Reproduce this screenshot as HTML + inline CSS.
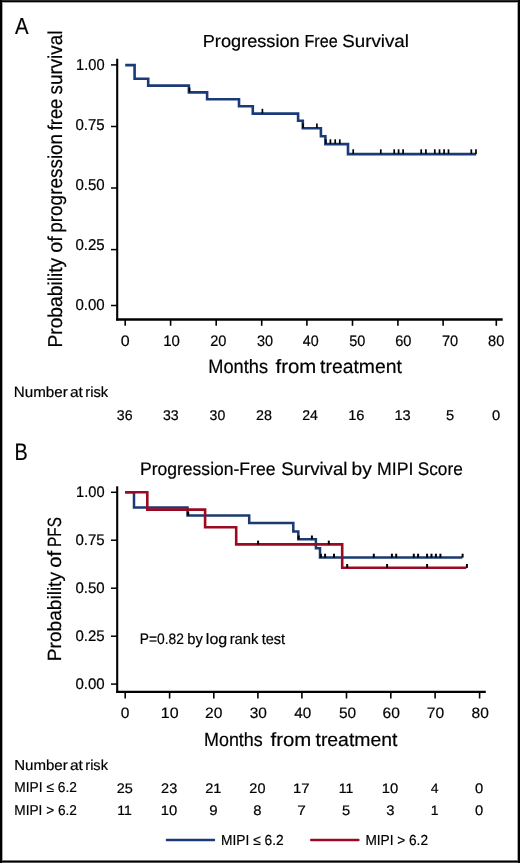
<!DOCTYPE html>
<html><head><meta charset="utf-8"><style>
html,body{margin:0;padding:0;background:#fff;}
body{width:520px;height:863px;overflow:hidden;position:relative;}
svg{position:absolute;left:0;top:0;display:block;will-change:transform;}
text{font-family:"Liberation Sans", sans-serif;fill:#000;text-rendering:geometricPrecision;stroke:#000;stroke-width:0.2px;}
</style></head><body>
<svg width="520" height="863" viewBox="0 0 520 863">
<rect x="0" y="0" width="520" height="863" fill="#fff"/>
<rect x="0" y="0" width="520" height="1" fill="#2a2a2a"/>
<rect x="0" y="1" width="520" height="1" fill="#000"/>
<rect x="0" y="2" width="520" height="1" fill="#aaa"/>
<rect x="0" y="860" width="520" height="1" fill="#777"/>
<rect x="0" y="861" width="520" height="1" fill="#000"/>
<rect x="0" y="862" width="520" height="1" fill="#555"/>
<rect x="2" y="2" width="1" height="858" fill="#aaa"/>
<rect x="517" y="2" width="1" height="858" fill="#aaa"/>
<rect x="0" y="0" width="2" height="863" fill="#000"/>
<rect x="518" y="0" width="2" height="863" fill="#000"/>
<text x="15.00" y="34.00" font-size="23.26" textLength="13.54" lengthAdjust="spacingAndGlyphs">A</text>
<text x="202.75" y="46.60" font-size="17.44" textLength="96.95" lengthAdjust="spacingAndGlyphs">Progression</text>
<text x="304.41" y="46.60" font-size="17.44" textLength="33.24" lengthAdjust="spacingAndGlyphs">Free</text>
<text x="342.26" y="46.60" font-size="17.44" textLength="66.69" lengthAdjust="spacingAndGlyphs">Survival</text>
<text transform="translate(61.50,347.54) rotate(-90)" x="0" y="0" font-size="20.06" textLength="89.71" lengthAdjust="spacingAndGlyphs">Probability</text>
<text transform="translate(61.50,252.69) rotate(-90)" x="0" y="0" font-size="20.06" textLength="16.57" lengthAdjust="spacingAndGlyphs">of</text>
<text transform="translate(61.50,232.73) rotate(-90)" x="0" y="0" font-size="20.06" textLength="98.86" lengthAdjust="spacingAndGlyphs">progression</text>
<text transform="translate(61.50,130.27) rotate(-90)" x="0" y="0" font-size="20.06" textLength="31.57" lengthAdjust="spacingAndGlyphs">free</text>
<text transform="translate(61.50,94.46) rotate(-90)" x="0" y="0" font-size="20.06" textLength="63.78" lengthAdjust="spacingAndGlyphs">survival</text>
<text x="76.10" y="69.60" font-size="15.77" textLength="28.50" lengthAdjust="spacingAndGlyphs">1.00</text>
<text x="75.40" y="129.80" font-size="15.77" textLength="29.22" lengthAdjust="spacingAndGlyphs">0.75</text>
<text x="75.40" y="190.30" font-size="15.77" textLength="29.22" lengthAdjust="spacingAndGlyphs">0.50</text>
<text x="75.40" y="250.30" font-size="15.77" textLength="29.22" lengthAdjust="spacingAndGlyphs">0.25</text>
<text x="75.40" y="310.30" font-size="15.77" textLength="29.22" lengthAdjust="spacingAndGlyphs">0.00</text>
<text x="120.86" y="345.80" font-size="15.21" textLength="8.90" lengthAdjust="spacingAndGlyphs">0</text>
<text x="163.28" y="345.80" font-size="15.21" textLength="16.69" lengthAdjust="spacingAndGlyphs">10</text>
<text x="210.17" y="345.80" font-size="15.21" textLength="16.28" lengthAdjust="spacingAndGlyphs">20</text>
<text x="256.92" y="345.80" font-size="15.21" textLength="16.12" lengthAdjust="spacingAndGlyphs">30</text>
<text x="302.74" y="345.80" font-size="15.21" textLength="15.89" lengthAdjust="spacingAndGlyphs">40</text>
<text x="349.22" y="345.80" font-size="15.21" textLength="16.12" lengthAdjust="spacingAndGlyphs">50</text>
<text x="395.17" y="345.80" font-size="15.21" textLength="16.28" lengthAdjust="spacingAndGlyphs">60</text>
<text x="441.97" y="345.80" font-size="15.21" textLength="16.28" lengthAdjust="spacingAndGlyphs">70</text>
<text x="488.04" y="345.80" font-size="15.21" textLength="16.20" lengthAdjust="spacingAndGlyphs">80</text>
<text x="208.34" y="372.80" font-size="19.33" textLength="59.67" lengthAdjust="spacingAndGlyphs">Months</text>
<text x="275.49" y="372.80" font-size="19.33" textLength="40.83" lengthAdjust="spacingAndGlyphs">from</text>
<text x="320.11" y="372.80" font-size="19.33" textLength="81.77" lengthAdjust="spacingAndGlyphs">treatment</text>
<text x="13.79" y="396.80" font-size="14.83" textLength="53.97" lengthAdjust="spacingAndGlyphs">Number</text>
<text x="69.90" y="396.80" font-size="14.83" textLength="12.99" lengthAdjust="spacingAndGlyphs">at</text>
<text x="85.29" y="396.80" font-size="14.83" textLength="22.91" lengthAdjust="spacingAndGlyphs">risk</text>
<text x="116.83" y="419.80" font-size="14.08" textLength="15.77" lengthAdjust="spacingAndGlyphs">36</text>
<text x="162.93" y="419.80" font-size="14.08" textLength="15.77" lengthAdjust="spacingAndGlyphs">33</text>
<text x="209.64" y="419.80" font-size="14.08" textLength="15.69" lengthAdjust="spacingAndGlyphs">30</text>
<text x="255.98" y="419.80" font-size="14.08" textLength="15.92" lengthAdjust="spacingAndGlyphs">28</text>
<text x="302.19" y="419.80" font-size="14.08" textLength="15.69" lengthAdjust="spacingAndGlyphs">24</text>
<text x="348.20" y="419.80" font-size="14.08" textLength="16.32" lengthAdjust="spacingAndGlyphs">16</text>
<text x="394.40" y="419.80" font-size="14.08" textLength="16.32" lengthAdjust="spacingAndGlyphs">13</text>
<text x="445.91" y="419.80" font-size="14.08" textLength="8.20" lengthAdjust="spacingAndGlyphs">5</text>
<text x="491.91" y="419.80" font-size="14.08" textLength="8.20" lengthAdjust="spacingAndGlyphs">0</text>
<text x="14.51" y="460.40" font-size="23.98" textLength="13.22" lengthAdjust="spacingAndGlyphs">B</text>
<text x="140.00" y="474.50" font-size="18.17" textLength="135.39" lengthAdjust="spacingAndGlyphs">Progression-Free</text>
<text x="281.16" y="474.50" font-size="18.17" textLength="66.28" lengthAdjust="spacingAndGlyphs">Survival</text>
<text x="351.55" y="474.50" font-size="18.17" textLength="20.27" lengthAdjust="spacingAndGlyphs">by</text>
<text x="377.09" y="474.50" font-size="18.17" textLength="36.32" lengthAdjust="spacingAndGlyphs">MIPI</text>
<text x="417.72" y="474.50" font-size="18.17" textLength="45.00" lengthAdjust="spacingAndGlyphs">Score</text>
<text transform="translate(60.90,661.13) rotate(-90)" x="0" y="0" font-size="19.19" textLength="89.10" lengthAdjust="spacingAndGlyphs">Probability</text>
<text transform="translate(60.90,567.82) rotate(-90)" x="0" y="0" font-size="19.19" textLength="16.99" lengthAdjust="spacingAndGlyphs">of</text>
<text transform="translate(60.90,546.93) rotate(-90)" x="0" y="0" font-size="19.19" textLength="29.81" lengthAdjust="spacingAndGlyphs">PFS</text>
<text x="76.10" y="497.30" font-size="15.35" textLength="28.50" lengthAdjust="spacingAndGlyphs">1.00</text>
<text x="75.40" y="545.20" font-size="15.35" textLength="29.22" lengthAdjust="spacingAndGlyphs">0.75</text>
<text x="75.40" y="593.20" font-size="15.35" textLength="29.22" lengthAdjust="spacingAndGlyphs">0.50</text>
<text x="75.40" y="641.20" font-size="15.35" textLength="29.22" lengthAdjust="spacingAndGlyphs">0.25</text>
<text x="75.40" y="689.10" font-size="15.35" textLength="29.22" lengthAdjust="spacingAndGlyphs">0.00</text>
<text x="120.88" y="718.30" font-size="15.07" textLength="8.66" lengthAdjust="spacingAndGlyphs">0</text>
<text x="160.80" y="718.30" font-size="15.07" textLength="17.80" lengthAdjust="spacingAndGlyphs">10</text>
<text x="205.02" y="718.30" font-size="15.07" textLength="17.36" lengthAdjust="spacingAndGlyphs">20</text>
<text x="249.68" y="718.30" font-size="15.07" textLength="17.20" lengthAdjust="spacingAndGlyphs">30</text>
<text x="294.22" y="718.30" font-size="15.07" textLength="16.95" lengthAdjust="spacingAndGlyphs">40</text>
<text x="338.98" y="718.30" font-size="15.07" textLength="17.20" lengthAdjust="spacingAndGlyphs">50</text>
<text x="382.62" y="718.30" font-size="15.07" textLength="17.36" lengthAdjust="spacingAndGlyphs">60</text>
<text x="426.72" y="718.30" font-size="15.07" textLength="17.36" lengthAdjust="spacingAndGlyphs">70</text>
<text x="471.60" y="718.30" font-size="15.07" textLength="17.28" lengthAdjust="spacingAndGlyphs">80</text>
<text x="204.07" y="745.50" font-size="19.04" textLength="58.63" lengthAdjust="spacingAndGlyphs">Months</text>
<text x="270.49" y="745.50" font-size="19.04" textLength="40.83" lengthAdjust="spacingAndGlyphs">from</text>
<text x="315.51" y="745.50" font-size="19.04" textLength="81.87" lengthAdjust="spacingAndGlyphs">treatment</text>
<text x="14.20" y="769.50" font-size="14.39" textLength="53.56" lengthAdjust="spacingAndGlyphs">Number</text>
<text x="69.90" y="769.50" font-size="14.39" textLength="12.99" lengthAdjust="spacingAndGlyphs">at</text>
<text x="85.31" y="769.50" font-size="14.39" textLength="22.60" lengthAdjust="spacingAndGlyphs">risk</text>
<text x="14.30" y="792.20" font-size="14.24" textLength="62.59" lengthAdjust="spacingAndGlyphs">MIPI &#8804; 6.2</text>
<text x="14.31" y="815.30" font-size="14.24" textLength="62.58" lengthAdjust="spacingAndGlyphs">MIPI &gt; 6.2</text>
<text x="116.67" y="792.50" font-size="13.80" textLength="16.14" lengthAdjust="spacingAndGlyphs">25</text>
<text x="117.35" y="815.40" font-size="13.80" textLength="14.52" lengthAdjust="spacingAndGlyphs">11</text>
<text x="161.07" y="792.50" font-size="13.80" textLength="16.14" lengthAdjust="spacingAndGlyphs">23</text>
<text x="160.69" y="815.40" font-size="13.80" textLength="16.46" lengthAdjust="spacingAndGlyphs">10</text>
<text x="205.27" y="792.50" font-size="13.80" textLength="16.22" lengthAdjust="spacingAndGlyphs">21</text>
<text x="209.22" y="815.40" font-size="13.80" textLength="8.37" lengthAdjust="spacingAndGlyphs">9</text>
<text x="249.38" y="792.50" font-size="13.80" textLength="16.06" lengthAdjust="spacingAndGlyphs">20</text>
<text x="253.33" y="815.40" font-size="13.80" textLength="8.28" lengthAdjust="spacingAndGlyphs">8</text>
<text x="292.97" y="792.50" font-size="13.80" textLength="16.71" lengthAdjust="spacingAndGlyphs">17</text>
<text x="297.23" y="815.40" font-size="13.80" textLength="8.56" lengthAdjust="spacingAndGlyphs">7</text>
<text x="338.65" y="792.50" font-size="13.80" textLength="14.52" lengthAdjust="spacingAndGlyphs">11</text>
<text x="342.01" y="815.40" font-size="13.80" textLength="8.20" lengthAdjust="spacingAndGlyphs">5</text>
<text x="381.89" y="792.50" font-size="13.80" textLength="16.46" lengthAdjust="spacingAndGlyphs">10</text>
<text x="386.30" y="815.40" font-size="13.80" textLength="8.28" lengthAdjust="spacingAndGlyphs">3</text>
<text x="430.85" y="792.50" font-size="13.80" textLength="7.79" lengthAdjust="spacingAndGlyphs">4</text>
<text x="430.65" y="815.40" font-size="13.80" textLength="7.76" lengthAdjust="spacingAndGlyphs">1</text>
<text x="475.11" y="792.50" font-size="13.80" textLength="8.20" lengthAdjust="spacingAndGlyphs">0</text>
<text x="475.11" y="815.40" font-size="13.80" textLength="8.20" lengthAdjust="spacingAndGlyphs">0</text>
<text x="139.70" y="643.50" font-size="15.12" textLength="44.13" lengthAdjust="spacingAndGlyphs">P=0.82</text>
<text x="187.24" y="643.50" font-size="15.12" textLength="15.58" lengthAdjust="spacingAndGlyphs">by</text>
<text x="205.86" y="643.50" font-size="15.12" textLength="21.37" lengthAdjust="spacingAndGlyphs">log</text>
<text x="229.64" y="643.50" font-size="15.12" textLength="28.87" lengthAdjust="spacingAndGlyphs">rank</text>
<text x="261.68" y="643.50" font-size="15.12" textLength="23.42" lengthAdjust="spacingAndGlyphs">test</text>
<text x="221.10" y="844.50" font-size="14.53" textLength="62.59" lengthAdjust="spacingAndGlyphs">MIPI &#8804; 6.2</text>
<text x="365.41" y="844.60" font-size="14.53" textLength="62.58" lengthAdjust="spacingAndGlyphs">MIPI &gt; 6.2</text>
<line x1="111" y1="64.9" x2="117" y2="64.9" stroke="#000" stroke-width="1.5" stroke-linecap="butt"/>
<line x1="111" y1="126.5" x2="117" y2="126.5" stroke="#000" stroke-width="1.5" stroke-linecap="butt"/>
<line x1="111" y1="188.0" x2="117" y2="188.0" stroke="#000" stroke-width="1.5" stroke-linecap="butt"/>
<line x1="111" y1="249.6" x2="117" y2="249.6" stroke="#000" stroke-width="1.5" stroke-linecap="butt"/>
<line x1="111" y1="305.5" x2="117" y2="305.5" stroke="#000" stroke-width="1.5" stroke-linecap="butt"/>
<line x1="117.2" y1="58.8" x2="117.2" y2="320.4" stroke="#000" stroke-width="2.1" stroke-linecap="butt"/>
<line x1="116.2" y1="319.5" x2="502.7" y2="319.5" stroke="#000" stroke-width="2.5" stroke-linecap="butt"/>
<line x1="125.2" y1="319" x2="125.2" y2="325.8" stroke="#000" stroke-width="1.6" stroke-linecap="butt"/>
<line x1="170.6" y1="319" x2="170.6" y2="325.8" stroke="#000" stroke-width="1.6" stroke-linecap="butt"/>
<line x1="216.2" y1="319" x2="216.2" y2="325.8" stroke="#000" stroke-width="1.6" stroke-linecap="butt"/>
<line x1="261.7" y1="319" x2="261.7" y2="325.8" stroke="#000" stroke-width="1.6" stroke-linecap="butt"/>
<line x1="306.9" y1="319" x2="306.9" y2="325.8" stroke="#000" stroke-width="1.6" stroke-linecap="butt"/>
<line x1="352.5" y1="319" x2="352.5" y2="325.8" stroke="#000" stroke-width="1.6" stroke-linecap="butt"/>
<line x1="397.9" y1="319" x2="397.9" y2="325.8" stroke="#000" stroke-width="1.6" stroke-linecap="butt"/>
<line x1="443.1" y1="319" x2="443.1" y2="325.8" stroke="#000" stroke-width="1.6" stroke-linecap="butt"/>
<line x1="496.3" y1="319" x2="496.3" y2="325.8" stroke="#000" stroke-width="1.6" stroke-linecap="butt"/>
<path d="M125.2,65.1 H134.6 V78.8 H148.2 V85.6 H188.9 V92.4 H207.1 V99.3 H239 V106.3 H252.8 V113.6 H298.1 V120.8 H302.8 V128.3 H320.9 V136.3 H325.4 V144.1 H348 V154.1 H476.2" fill="none" stroke="#1a3a78" stroke-width="2.6" stroke-linejoin="miter" stroke-linecap="butt"/>
<line x1="189.5" y1="87.60" x2="189.5" y2="92.20" stroke="#000" stroke-width="1.7"/>
<line x1="262.40000000000003" y1="108.80" x2="262.40000000000003" y2="113.40" stroke="#000" stroke-width="1.7"/>
<line x1="303.1" y1="123.50" x2="303.1" y2="128.10" stroke="#000" stroke-width="1.7"/>
<line x1="316.90000000000003" y1="123.50" x2="316.90000000000003" y2="128.10" stroke="#000" stroke-width="1.7"/>
<line x1="325.8" y1="139.30" x2="325.8" y2="143.90" stroke="#000" stroke-width="1.7"/>
<line x1="330.40000000000003" y1="139.30" x2="330.40000000000003" y2="143.90" stroke="#000" stroke-width="1.7"/>
<line x1="335.2" y1="139.30" x2="335.2" y2="143.90" stroke="#000" stroke-width="1.7"/>
<line x1="339.8" y1="139.30" x2="339.8" y2="143.90" stroke="#000" stroke-width="1.7"/>
<line x1="353.2" y1="149.30" x2="353.2" y2="153.90" stroke="#000" stroke-width="1.7"/>
<line x1="380.8" y1="149.30" x2="380.8" y2="153.90" stroke="#000" stroke-width="1.7"/>
<line x1="394.2" y1="149.30" x2="394.2" y2="153.90" stroke="#000" stroke-width="1.7"/>
<line x1="398.6" y1="149.30" x2="398.6" y2="153.90" stroke="#000" stroke-width="1.7"/>
<line x1="403.1" y1="149.30" x2="403.1" y2="153.90" stroke="#000" stroke-width="1.7"/>
<line x1="421.2" y1="149.30" x2="421.2" y2="153.90" stroke="#000" stroke-width="1.7"/>
<line x1="425.9" y1="149.30" x2="425.9" y2="153.90" stroke="#000" stroke-width="1.7"/>
<line x1="434.8" y1="149.30" x2="434.8" y2="153.90" stroke="#000" stroke-width="1.7"/>
<line x1="439.5" y1="149.30" x2="439.5" y2="153.90" stroke="#000" stroke-width="1.7"/>
<line x1="444.1" y1="149.30" x2="444.1" y2="153.90" stroke="#000" stroke-width="1.7"/>
<line x1="448.5" y1="149.30" x2="448.5" y2="153.90" stroke="#000" stroke-width="1.7"/>
<line x1="471.3" y1="149.30" x2="471.3" y2="153.90" stroke="#000" stroke-width="1.7"/>
<line x1="476.0" y1="149.30" x2="476.0" y2="153.90" stroke="#000" stroke-width="1.7"/>
<line x1="111" y1="492.3" x2="117" y2="492.3" stroke="#000" stroke-width="1.5" stroke-linecap="butt"/>
<line x1="111" y1="540.2" x2="117" y2="540.2" stroke="#000" stroke-width="1.5" stroke-linecap="butt"/>
<line x1="111" y1="588.2" x2="117" y2="588.2" stroke="#000" stroke-width="1.5" stroke-linecap="butt"/>
<line x1="111" y1="636.2" x2="117" y2="636.2" stroke="#000" stroke-width="1.5" stroke-linecap="butt"/>
<line x1="111" y1="684.1" x2="117" y2="684.1" stroke="#000" stroke-width="1.5" stroke-linecap="butt"/>
<line x1="117.2" y1="486.3" x2="117.2" y2="692.9" stroke="#000" stroke-width="2.1" stroke-linecap="butt"/>
<line x1="116.2" y1="691.9" x2="485.8" y2="691.9" stroke="#000" stroke-width="2.2" stroke-linecap="butt"/>
<line x1="125.2" y1="691.5" x2="125.2" y2="698.5" stroke="#000" stroke-width="1.6" stroke-linecap="butt"/>
<line x1="169.6" y1="691.5" x2="169.6" y2="698.5" stroke="#000" stroke-width="1.6" stroke-linecap="butt"/>
<line x1="213.8" y1="691.5" x2="213.8" y2="698.5" stroke="#000" stroke-width="1.6" stroke-linecap="butt"/>
<line x1="257.9" y1="691.5" x2="257.9" y2="698.5" stroke="#000" stroke-width="1.6" stroke-linecap="butt"/>
<line x1="301.9" y1="691.5" x2="301.9" y2="698.5" stroke="#000" stroke-width="1.6" stroke-linecap="butt"/>
<line x1="346.5" y1="691.5" x2="346.5" y2="698.5" stroke="#000" stroke-width="1.6" stroke-linecap="butt"/>
<line x1="390.8" y1="691.5" x2="390.8" y2="698.5" stroke="#000" stroke-width="1.6" stroke-linecap="butt"/>
<line x1="435.1" y1="691.5" x2="435.1" y2="698.5" stroke="#000" stroke-width="1.6" stroke-linecap="butt"/>
<line x1="479.6" y1="691.5" x2="479.6" y2="698.5" stroke="#000" stroke-width="1.6" stroke-linecap="butt"/>
<path d="M125.2,492.3 H134 V507.4 H187.5 V515.4 H249.2 V523 H293.3 V531.4 H298.3 V539.3 H315.9 V548.2 H320 V557.5 H462.3" fill="none" stroke="#1b3a72" stroke-width="2.5" stroke-linejoin="miter" stroke-linecap="butt"/>
<line x1="188.2" y1="511.60" x2="188.2" y2="515.50" stroke="#000" stroke-width="2.0"/>
<line x1="298.7" y1="535.50" x2="298.7" y2="539.40" stroke="#000" stroke-width="2.0"/>
<line x1="311.9" y1="535.50" x2="311.9" y2="539.40" stroke="#000" stroke-width="2.0"/>
<line x1="320.9" y1="553.70" x2="320.9" y2="557.60" stroke="#000" stroke-width="2.0"/>
<line x1="325.1" y1="553.70" x2="325.1" y2="557.60" stroke="#000" stroke-width="2.0"/>
<line x1="334" y1="553.70" x2="334" y2="557.60" stroke="#000" stroke-width="2.0"/>
<line x1="373.8" y1="553.70" x2="373.8" y2="557.60" stroke="#000" stroke-width="2.0"/>
<line x1="391.9" y1="553.70" x2="391.9" y2="557.60" stroke="#000" stroke-width="2.0"/>
<line x1="396.2" y1="553.70" x2="396.2" y2="557.60" stroke="#000" stroke-width="2.0"/>
<line x1="413.8" y1="553.70" x2="413.8" y2="557.60" stroke="#000" stroke-width="2.0"/>
<line x1="418.1" y1="553.70" x2="418.1" y2="557.60" stroke="#000" stroke-width="2.0"/>
<line x1="427.1" y1="553.70" x2="427.1" y2="557.60" stroke="#000" stroke-width="2.0"/>
<line x1="431.5" y1="553.70" x2="431.5" y2="557.60" stroke="#000" stroke-width="2.0"/>
<line x1="435.9" y1="553.70" x2="435.9" y2="557.60" stroke="#000" stroke-width="2.0"/>
<line x1="440.4" y1="553.70" x2="440.4" y2="557.60" stroke="#000" stroke-width="2.0"/>
<line x1="462.6" y1="553.70" x2="462.6" y2="557.60" stroke="#000" stroke-width="2.0"/>
<path d="M125,492.3 H147.3 V509.6 H205.1 V527.3 H236.2 V544.4 H342.2 V567.8 H466.3" fill="none" stroke="#9a0a22" stroke-width="2.6" stroke-linejoin="miter" stroke-linecap="butt"/>
<line x1="258.1" y1="540.60" x2="258.1" y2="544.50" stroke="#000" stroke-width="2.0"/>
<line x1="328.8" y1="540.60" x2="328.8" y2="544.50" stroke="#000" stroke-width="2.0"/>
<line x1="347.2" y1="564.00" x2="347.2" y2="567.90" stroke="#000" stroke-width="2.0"/>
<line x1="387.1" y1="564.00" x2="387.1" y2="567.90" stroke="#000" stroke-width="2.0"/>
<line x1="427.1" y1="564.00" x2="427.1" y2="567.90" stroke="#000" stroke-width="2.0"/>
<line x1="466.9" y1="564.00" x2="466.9" y2="567.90" stroke="#000" stroke-width="2.0"/>
<line x1="166.9" y1="840" x2="214.0" y2="840" stroke="#1a3a78" stroke-width="2.4" stroke-linecap="round"/>
<line x1="311.2" y1="840" x2="358.4" y2="840" stroke="#9a0a22" stroke-width="2.4" stroke-linecap="round"/>
</svg>
</body></html>
